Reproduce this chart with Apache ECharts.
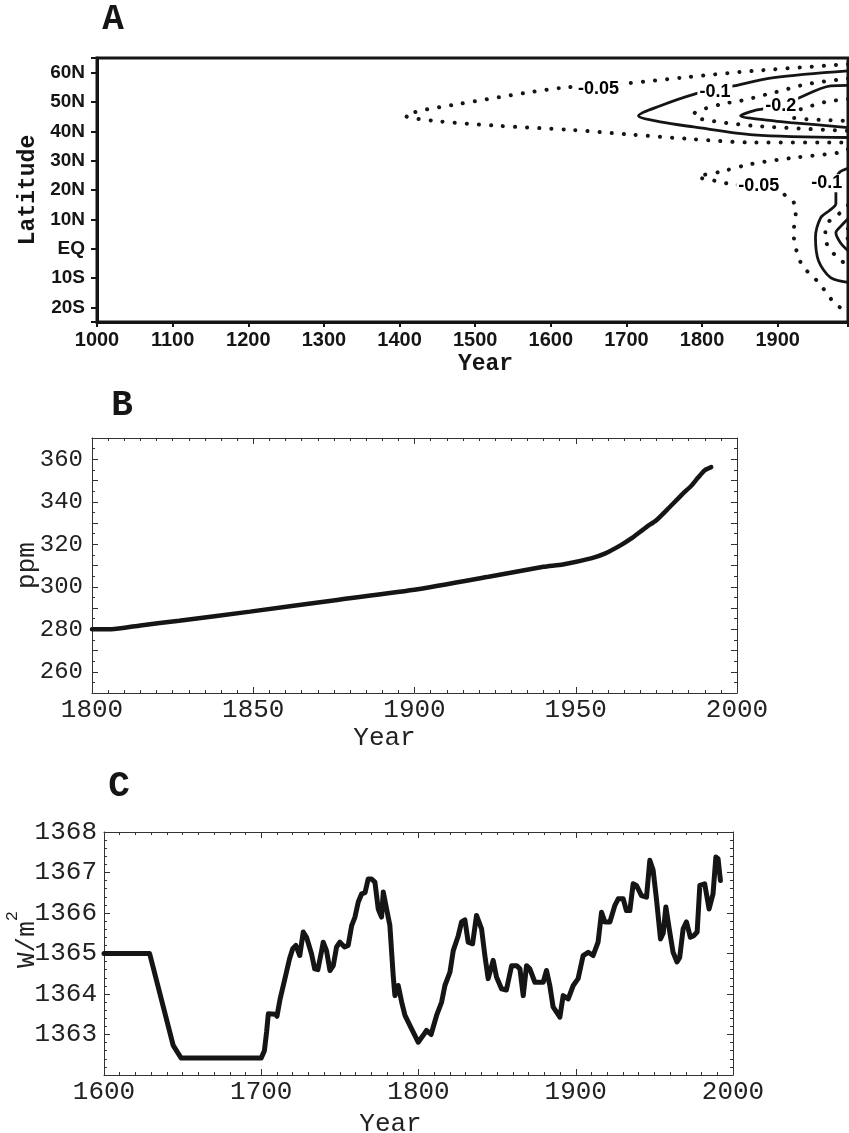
<!DOCTYPE html>
<html>
<head>
<meta charset="utf-8">
<script src="https://cdn.jsdelivr.net/npm/echarts@6/dist/echarts.min.js"></script>
<style>
html,body{margin:0;padding:0;background:#fff;}
#chart{width:849px;height:1133px;}
</style>
</head>
<body>
<div id="chart"></div>
<script>
// ---- panel A: contours, every point is [year, latitude] ----
var latTicks = ['20S','10S','EQ','10N','20N','30N','40N','50N','60N'];
// mid latitude wedge
var c005mid = [[1993,62.9],[1868,60.6],[1781,58.5],[1701,56.4],[1617,54.9],[1569,53.2],[1471,49.0],[1427,47.0],[1408,45.3],[1445,43.6],[1529,41.9],[1626,40.5],[1701,39.0],[1789,37.3],[1868,36.2],[1993,36.2]];
var c010mid = [[1993,60.6],[1895,58.3],[1842,55.5],[1817,54.0],[1789,52.6],[1745,48.7],[1716,45.3],[1745,43.2],[1789,41.5],[1868,38.8],[1993,37.9]];
var c015mid = [[1993,58.0],[1939,56.1],[1895,53.2],[1851,50.4],[1824,49.2],[1789,45.8],[1798,44.2],[1868,41.9],[1993,40.2]];
var c020mid = [[1993,55.7],[1970,55.5],[1924,50.9],[1904,48.7],[1868,47.0],[1851,45.3],[1895,43.6],[1917,43.0],[1993,41.3]];
var c025mid = [[1993,51.0],[1963,50.0],[1930,47.5],[1912,45.9],[1917,44.7],[1957,43.9],[1993,43.6]];
// tropical rings
var c005trop = [[1993,33.9],[1983,32.8],[1921,31.0],[1864,28.8],[1824,26.2],[1795,24.5],[1824,22.8],[1838,22.0],[1875,21.1],[1897,20.1],[1907,18.7],[1920,16.3],[1924,12.9],[1921,5.1],[1924,0.3],[1928,-3.1],[1934,-6.5],[1946,-9.2],[1957,-12.6],[1966,-15.4],[1974,-18.4],[1983,-20.1],[1993,-21.2]];
var c010trop = [[1993,27.4],[1981,25.8],[1977,22.5],[1977,18.7],[1977,15.3],[1968,12.9],[1957,10.6],[1950,3.8],[1954,-4.1],[1970,-9.9],[1993,-11.5]];
var c015trop = [[1993,14.8],[1983,12.3],[1967,9.0],[1963,5.1],[1966,1.0],[1979,-3.0],[1993,-5.8]];
var c020trop = [[1993,10.2],[1983,7.5],[1977,5.4],[1983,2.0],[1993,-0.7]];
var c025trop = [[1993,6.8],[1988,5.1],[1993,3.4]];
// contour labels [year, lat, text]
var contourLabels = [[1663,54.4,'-0.05'],[1817,53.5,'-0.1'],[1904,48.7,'-0.2'],[1875,21.2,'-0.05'],[1965,22.3,'-0.1']];

// ---- panel B: CO2 ----
var bYears = [1800,1806,1815,1827,1849,1876,1901,1923,1940,1946,1955,1959,1964,1967,1972,1975,1979,1983,1986,1988,1990,1992];
var bPpm   = [280,280,281.8,284,288.3,293.8,298.8,304.7,309.4,310.5,313.5,315.6,319.6,322.5,328.2,331.3,337.3,343.5,347.8,351.5,354.8,356.3];

// ---- panel C: solar irradiance ----
var cYears = [1600,1629,1644,1649,1700,1702,1703.4,1704.5,1709,1710,1712,1715,1718,1720,1722,1724.5,1726.7,1728.8,1732,1734,1736,1738.4,1739.4,1741.5,1743.7,1745.8,1747.9,1750,1753,1755.3,1757.5,1759.6,1761.7,1763.8,1766,1768,1770,1772.3,1774.4,1776.5,1777.6,1779.7,1781.8,1783.9,1785,1787.1,1789.3,1791.4,1795.6,1799.8,1801,1803,1805.1,1808,1811.5,1814.7,1816.8,1820,1822.1,1825.3,1827.4,1829.5,1831.6,1834.4,1836.9,1840.1,1842.2,1844.3,1847.5,1849.6,1852.8,1855.9,1859.2,1862.4,1864.5,1866.6,1868.7,1870.8,1874,1877.2,1879.3,1881.4,1883.5,1885.6,1889.9,1892,1895.2,1898.4,1901.5,1904.7,1907.9,1911,1914.2,1916.4,1918.5,1921.7,1924.9,1927,1930.2,1932.2,1934.4,1936.5,1938.6,1941.8,1945,1947.1,1949.2,1951.3,1953.9,1955.6,1957.3,1959.4,1961.9,1964.4,1966.1,1968.3,1970.4,1972.9,1975,1977.2,1978.9,1982,1984.8,1987.3,1989.1,1990.5,1992];
var cWm2   = [1365,1365,1362.73,1362.42,1362.42,1362.6,1363.06,1363.51,1363.5,1363.45,1363.88,1364.37,1364.87,1365.12,1365.2,1364.95,1365.53,1365.4,1364.99,1364.62,1364.6,1365.07,1365.28,1365.07,1364.58,1364.7,1365.16,1365.28,1365.16,1365.2,1365.69,1365.9,1366.27,1366.47,1366.5,1366.84,1366.84,1366.76,1366.1,1365.9,1366.52,1366.1,1365.69,1364.46,1363.96,1364.21,1363.8,1363.47,1363.14,1362.81,1362.85,1362.98,1363.1,1363.0,1363.47,1363.8,1364.21,1364.54,1365.07,1365.44,1365.78,1365.83,1365.28,1365.24,1365.94,1365.61,1364.95,1364.38,1364.83,1364.42,1364.13,1364.1,1364.7,1364.7,1364.62,1363.96,1364.7,1364.62,1364.29,1364.29,1364.29,1364.58,1364.21,1363.68,1363.43,1363.96,1363.88,1364.21,1364.38,1364.95,1365.03,1364.95,1365.28,1366.02,1365.78,1365.78,1366.19,1366.35,1366.35,1366.06,1366.06,1366.72,1366.68,1366.43,1366.39,1367.3,1367.06,1366.35,1365.36,1365.5,1366.15,1365.62,1365.03,1364.79,1364.9,1365.61,1365.78,1365.4,1365.44,1365.53,1366.68,1366.72,1366.1,1366.47,1367.38,1367.34,1366.8];

var mono = "'Liberation Mono', 'DejaVu Sans Mono', monospace";
var sans = "'Liberation Sans', Arial, sans-serif";
var ink = '#151515';

function pairs(xs, ys) {
    return xs.map(function (x, i) { return [x, ys[i]]; });
}

// dotted = round dots, solid = plain line
function contour(name, data, dotted) {
    return {
        name: name,
        type: 'line',
        xAxisIndex: 0,
        yAxisIndex: 0,
        data: data,
        showSymbol: false,
        smooth: 0.3,
        silent: true,
        z: 3,
        lineStyle: dotted
            ? { color: ink, width: 4, type: [0.1, 12], cap: 'round' }
            : { color: ink, width: 2.8 }
    };
}

// Mathematica style frame axes for B and C (ticks inside, all four sides)
function frameAxis(grid, pos, min, max, interval, minorSplit, label) {
    var ax = {
        gridIndex: grid,
        type: 'value',
        position: pos,
        min: min,
        max: max,
        interval: interval,
        axisLine: { show: true, onZero: false, lineStyle: { color: '#333', width: 1 } },
        axisTick: { show: true, inside: true, length: 6, lineStyle: { color: '#333', width: 1 } },
        minorTick: { show: true, splitNumber: minorSplit, length: 3, lineStyle: { color: '#333', width: 1 } },
        splitLine: { show: false },
        minorSplitLine: { show: false },
        axisLabel: { show: false }
    };
    if (label) {
        ax.axisLabel = label;
    }
    return ax;
}

// axis title helper, placed by gap from the axis line only
function axisName(ax, text, gap, rotate, style) {
    ax.name = text;
    ax.nameLocation = 'middle';
    ax.nameGap = gap;
    ax.nameMoveOverlap = false;
    if (rotate) ax.nameRotate = rotate;
    ax.nameTextStyle = style;
    return ax;
}

var chart = echarts.init(document.getElementById('chart'));

var option = {
    animation: false,
    backgroundColor: '#fff',
    grid: [
        { left: 97, right: 1, top: 58, bottom: 811, show: true, borderColor: ink, borderWidth: 3, backgroundColor: 'transparent', outerBoundsMode: 'none' },
        { left: 92, right: 112, top: 438, bottom: 440, outerBoundsMode: 'none' },
        { left: 104, right: 116, top: 832, bottom: 58, outerBoundsMode: 'none' }
    ],
    graphic: [
        { type: 'text', x: 113, y: 20, style: { text: 'A', font: 'bold 36px ' + mono, fill: ink, align: 'center', verticalAlign: 'middle' } },
        { type: 'text', x: 122, y: 406, style: { text: 'B', font: 'bold 36px ' + mono, fill: ink, align: 'center', verticalAlign: 'middle' } },
        { type: 'text', x: 119, y: 787, style: { text: 'C', font: 'bold 36px ' + mono, fill: ink, align: 'center', verticalAlign: 'middle' } }
    ],
    xAxis: [
        axisName({
            gridIndex: 0, type: 'value', min: 1000, max: 1993, interval: 100,
            axisLine: { show: true, onZero: false, lineStyle: { color: ink, width: 3 } },
            axisTick: { show: true, inside: false, length: 5, lineStyle: { color: ink, width: 2 } },
            splitLine: { show: false },
            axisLabel: {
                fontFamily: sans, fontWeight: 'bold', fontSize: 20, color: ink, margin: 8,
                formatter: function (v) { return v % 100 === 0 ? String(v) : ''; }
            }
        }, 'Year', 31, 0, { fontFamily: mono, fontWeight: 'bold', fontSize: 23, color: ink, padding: [0, 0, 0, 26] }),
        axisName(frameAxis(1, 'bottom', 1800, 2000, 50, 10, {
            fontFamily: mono, fontSize: 26, color: '#222', margin: 4,
            formatter: function (v) { return String(v); }
        }), 'Year', 32, 0, { fontFamily: mono, fontSize: 26, color: '#222', padding: [0, 60, 0, 0] }),
        frameAxis(1, 'top', 1800, 2000, 50, 10, null),
        axisName(frameAxis(2, 'bottom', 1600, 2000, 100, 10, {
            fontFamily: mono, fontSize: 26, color: '#222', margin: 4,
            formatter: function (v) { return String(v); }
        }), 'Year', 36, 0, { fontFamily: mono, fontSize: 26, color: '#222', padding: [0, 56, 0, 0] }),
        frameAxis(2, 'top', 1600, 2000, 100, 10, null)
    ],
    yAxis: [
        axisName({
            gridIndex: 0, type: 'value', min: -25, max: 65, splitNumber: 9, minInterval: 10, maxInterval: 10,
            axisLine: { show: true, onZero: false, lineStyle: { color: ink, width: 3 } },
            axisTick: { show: true, inside: false, length: 6, lineStyle: { color: ink, width: 2 } },
            splitLine: { show: false },
            axisLabel: {
                fontFamily: sans, fontWeight: 'bold', fontSize: 19, color: ink, margin: 12,
                formatter: function (v) {
                    if (v % 10 !== 0 || v < -20 || v > 60) return '';
                    return latTicks[(v + 20) / 10];
                }
            }
        }, 'Latitude', 57, 90, { fontFamily: mono, fontWeight: 'bold', fontSize: 23, color: ink }),
        axisName(frameAxis(1, 'left', 250, 370, 10, 2, {
            fontFamily: mono, fontSize: 24, color: '#222', margin: 9,
            formatter: function (v) { return v % 20 === 0 ? String(v) : ''; }
        }), 'ppm', 52, 90, { fontFamily: mono, fontSize: 26, color: '#222' }),
        frameAxis(1, 'right', 250, 370, 10, 2, null),
        axisName(frameAxis(2, 'left', 1362, 1368, 1, 5, {
            fontFamily: mono, fontSize: 26, color: '#222', margin: 7,
            formatter: function (v) { return v === 1362 ? '' : String(v); }
        }), '{a|W/m}{s|2}', 64, 90, {
            color: '#222', padding: [0, 0, 0, 28],
            rich: {
                a: { fontFamily: mono, fontSize: 26, lineHeight: 36, verticalAlign: 'bottom', color: '#222' },
                s: { fontFamily: mono, fontSize: 17, verticalAlign: 'top', color: '#222' }
            }
        }),
        frameAxis(2, 'right', 1362, 1368, 1, 5, null)
    ],
    series: [
        contour('-0.05 mid', c005mid, true),
        contour('-0.1 mid', c010mid, false),
        contour('-0.15 mid', c015mid, true),
        contour('-0.2 mid', c020mid, false),
        contour('-0.25 mid', c025mid, true),
        contour('-0.05 trop', c005trop, true),
        contour('-0.1 trop', c010trop, false),
        contour('-0.15 trop', c015trop, true),
        contour('-0.2 trop', c020trop, false),
        contour('-0.25 trop', c025trop, true),
        {
            type: 'scatter', xAxisIndex: 0, yAxisIndex: 0, z: 10, silent: true,
            data: contourLabels,
            symbolSize: 1,
            itemStyle: { color: 'transparent', opacity: 1 },
            label: {
                show: true, position: 'inside', opacity: 1,
                formatter: function (p) { return p.data[2]; },
                fontFamily: sans, fontWeight: 'bold', fontSize: 18, color: '#000',
                textBorderWidth: 0,
                backgroundColor: '#fff', padding: [0, 2]
            }
        },
        {
            type: 'line', xAxisIndex: 1, yAxisIndex: 1,
            data: pairs(bYears, bPpm),
            showSymbol: false, smooth: 0.2,
            lineStyle: { color: ink, width: 4.5, cap: 'round' }
        },
        {
            type: 'line', xAxisIndex: 3, yAxisIndex: 3,
            data: pairs(cYears, cWm2),
            showSymbol: false,
            lineStyle: { color: ink, width: 5, join: 'round', cap: 'round' }
        }
    ]
};

chart.setOption(option);
</script>
</body>
</html>
